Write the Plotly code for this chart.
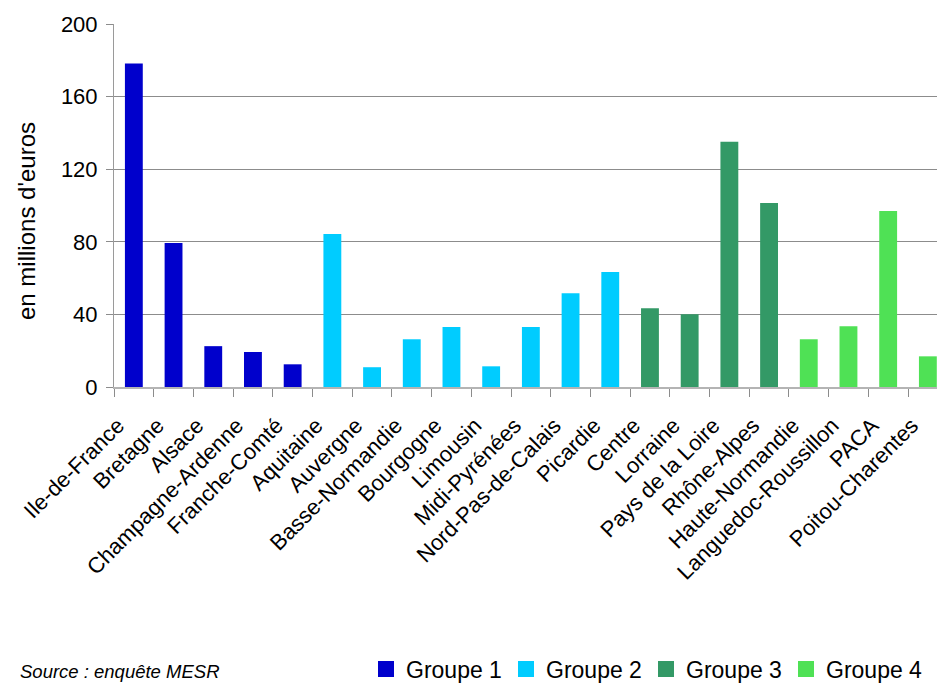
import plotly.graph_objects as go

regions = ["Ile-de-France", "Bretagne", "Alsace", "Champagne-Ardenne", "Franche-Comté",
           "Aquitaine", "Auvergne", "Basse-Normandie", "Bourgogne", "Limousin",
           "Midi-Pyrénées", "Nord-Pas-de-Calais", "Picardie",
           "Centre", "Lorraine", "Pays de la Loire", "Rhône-Alpes",
           "Haute-Normandie", "Languedoc-Roussillon", "PACA", "Poitou-Charentes"]
values = [178.2, 79.3, 22.5, 19.3, 12.5,
          84.3, 10.9, 26.3, 33.0, 11.4, 33.0, 51.7, 63.3,
          43.4, 40.1, 135.1, 101.4,
          26.3, 33.5, 97.0, 16.9]
groups = [1, 1, 1, 1, 1,
          2, 2, 2, 2, 2, 2, 2, 2,
          3, 3, 3, 3,
          4, 4, 4, 4]
group_names = ["Groupe 1", "Groupe 2", "Groupe 3", "Groupe 4"]
group_colors = ["#0000CC", "#00CCFF", "#339966", "#4FE155"]
y_ticks = [0, 40, 80, 120, 160, 200]

FONT = "Liberation Sans, Arial, sans-serif"

fig = go.Figure()
for gi, (name, color) in enumerate(zip(group_names, group_colors), start=1):
    xs = [r for r, g in zip(regions, groups) if g == gi]
    ys = [v for v, g in zip(values, groups) if g == gi]
    fig.add_trace(go.Bar(x=xs, y=ys, name=name, marker_color=color,
                         marker_line_width=0, width=0.45, showlegend=False,
                         legendgroup=name))
    # legend-only entry with a larger square swatch
    fig.add_trace(go.Scatter(x=[None], y=[None], mode="markers", name=name,
                             legendgroup=name,
                             marker=dict(symbol="square", size=16, color=color),
                             showlegend=True))

fig.update_layout(
    width=937, height=684,
    margin=dict(l=114, r=0, t=24, b=297, autoexpand=False),
    paper_bgcolor="white", plot_bgcolor="white",
    barmode="overlay",
    font=dict(family=FONT, size=22, color="black"),
    showlegend=True,
    legend=dict(orientation="h", x=(366 - 114) / 823, xanchor="left",
                y=-(669 - 387) / 363, yanchor="middle",
                font=dict(size=23), entrywidth=95, entrywidthmode="pixels",
                itemwidth=30, tracegroupgap=0, bgcolor="rgba(0,0,0,0)",
                itemsizing="trace"),
)

fig.update_xaxes(
    type="category", categoryorder="array", categoryarray=regions,
    range=[-0.5, 20.23], automargin=False,
    tickangle=-45, tickfont=dict(size=22),
    showline=True, linecolor="#b4b4b4", linewidth=2,
    ticks="outside", tickson="boundaries", ticklen=8, tickcolor="#8c8c8c",
    showgrid=False, ticklabelstandoff=15, ticklabelshift=-16,
)
fig.update_yaxes(
    range=[0, 200], tickvals=y_ticks, automargin=False,
    tickfont=dict(size=22),
    showline=True, linecolor="#9a9a9a", linewidth=1,
    ticks="outside", ticklen=7, tickcolor="#8c8c8c",
    showgrid=True, gridcolor="#8c8c8c", gridwidth=1,
    zeroline=False,
    ticklabelstandoff=4,
)

# y-axis title placed as in the reference (slightly below the plot centre)
fig.add_annotation(text="en millions d'euros", xref="paper", yref="paper",
                   x=(26 - 114) / 823, y=(387 - 221) / 363,
                   xanchor="center", yanchor="middle", textangle=-90,
                   showarrow=False, font=dict(size=24, family=FONT, color="black"))

fig.add_annotation(text="Source : enquête MESR", xref="paper", yref="paper",
                   x=(18 - 114) / 823, y=-(671 - 387) / 363,
                   xanchor="left", yanchor="middle", showarrow=False,
                   font=dict(size=18.5, style="italic", family=FONT, color="black"))

fig.write_html("out.html")
